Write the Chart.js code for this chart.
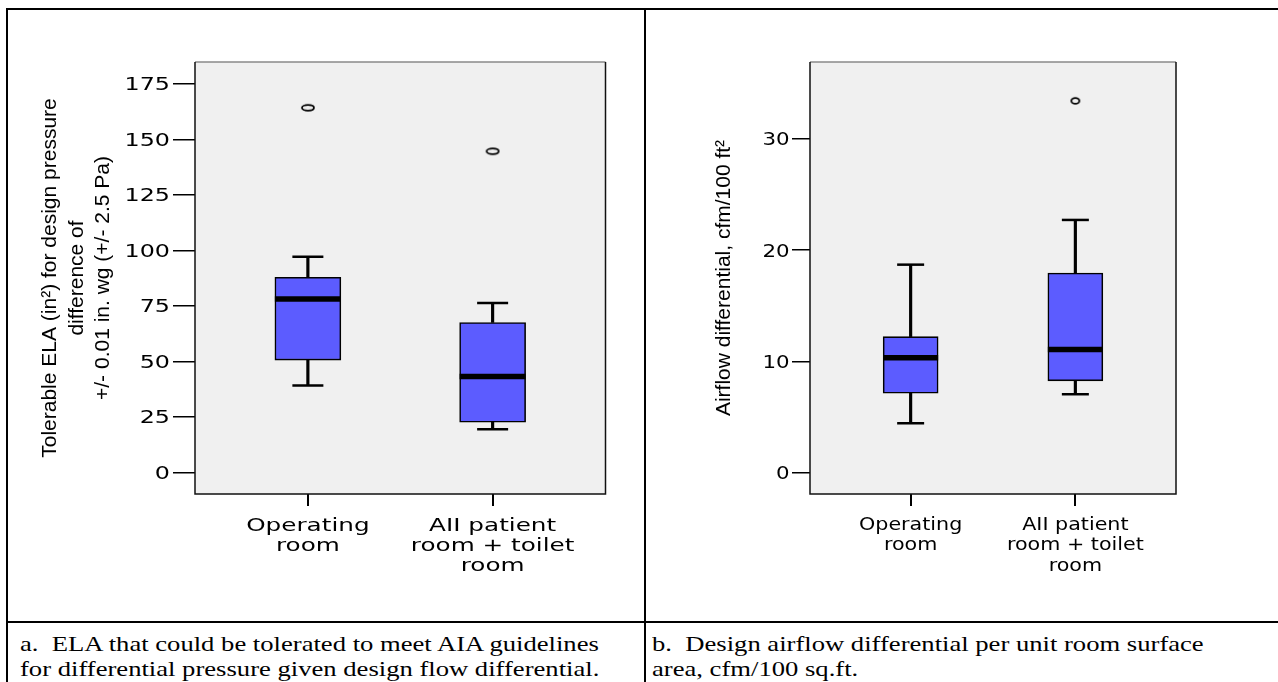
<!DOCTYPE html>
<html><head><meta charset="utf-8">
<script src="https://cdn.jsdelivr.net/npm/chart.js@4.4.1/dist/chart.umd.min.js"></script>
<style>
html,body{margin:0;padding:0;background:#fff;}
body{width:1278px;height:682px;position:relative;overflow:hidden;}
.ln{position:absolute;background:#000;z-index:2;}
canvas{position:absolute;top:0;}
.cap{position:absolute;font-family:"Liberation Serif","Times New Roman",serif;font-size:22px;line-height:24.5px;white-space:pre;transform-origin:0 0;transform:scaleX(1.21);color:#000;z-index:3;}
</style></head><body>
<canvas id="c1" width="644" height="621" style="left:0;width:644px;height:621px"></canvas>
<canvas id="c2" width="632" height="621" style="left:646px;width:632px;height:621px"></canvas>
<div class="ln" style="left:6px;top:8px;width:1272px;height:2px"></div>
<div class="ln" style="left:6px;top:8px;width:2px;height:674px"></div>
<div class="ln" style="left:644px;top:8px;width:2px;height:674px"></div>
<div class="ln" style="left:6px;top:621px;width:1272px;height:2px"></div>
<div class="cap" style="left:20px;top:632px">a.  ELA that could be tolerated to meet AIA guidelines
for differential pressure given design flow differential.</div>
<div class="cap" style="left:652px;top:632px">b.  Design airflow differential per unit room surface
area, cfm/100 sq.ft.</div>
<script>
// ---------- data ----------
const categories = ['Operating room', 'AII patient room + toilet room'];
const categoryLines = [['Operating', 'room'], ['AII patient', 'room + toilet', 'room']];

const elaMin = [39.2, 19.6];
const elaQ1 = [50.7, 22.7];
const elaMedian = [78.2, 43.3];
const elaQ3 = [88.0, 67.6];
const elaMax = [97.2, 76.4];
const elaOutliers = [[164.3], [144.7]];
const elaTicks = [0, 25, 50, 75, 100, 125, 150, 175];
const elaTitle = ['Tolerable ELA (in\u00B2) for design pressure', 'difference of', '+/- 0.01 in. wg (+/- 2.5 Pa)'];

const airMin = [4.44, 7.05];
const airQ1 = [7.14, 8.25];
const airMedian = [10.34, 11.07];
const airQ3 = [12.23, 17.95];
const airMax = [18.7, 22.72];
const airOutliers = [[], [33.43]];
const airTicks = [0, 10, 20, 30];
const airTitle = 'Airflow differential, cfm/100 ft\u00B2';

// ---------- helpers ----------
function ellipseMarker(w, h, rx, ry) {
  const c = document.createElement('canvas');
  c.width = w; c.height = h;
  const g = c.getContext('2d');
  g.strokeStyle = '#000'; g.lineWidth = 1.8;
  g.beginPath(); g.ellipse(w / 2, h / 2, rx, ry, 0, 0, Math.PI * 2); g.stroke();
  return c;
}

const framePlugin = {
  id: 'frame',
  beforeDraw(chart) {
    const {ctx, chartArea: a} = chart;
    ctx.save();
    ctx.fillStyle = '#f0f0f0';
    ctx.fillRect(a.left, a.top, a.right - a.left, a.bottom - a.top);
    ctx.restore();
  },
  afterDraw(chart, args, o) {
    const {ctx, chartArea: a} = chart;
    ctx.save();
    ctx.lineWidth = 1.5;
    ctx.strokeStyle = '#8a8a8a';
    ctx.beginPath(); ctx.moveTo(a.left, a.top); ctx.lineTo(a.right, a.top); ctx.stroke();
    ctx.strokeStyle = '#111';
    ctx.beginPath();
    ctx.moveTo(a.right, a.top); ctx.lineTo(a.right, a.bottom);
    ctx.lineTo(a.left, a.bottom); ctx.lineTo(a.left, a.top);
    ctx.stroke();
    const ys = chart.scales.y, xs = chart.scales.x;
    ctx.fillStyle = '#000';
    ctx.textBaseline = 'alphabetic';
    ctx.font = o.yFont;
    ctx.textAlign = 'right';
    ys.ticks.forEach(t => {
      const py = ys.getPixelForValue(t.value);
      ctx.save();
      ctx.translate(a.left - o.yGap, py + o.yShift);
      ctx.scale(o.ySx, 1);
      ctx.fillText(String(t.label), 0, 0);
      ctx.restore();
    });
    ctx.font = o.xFont;
    ctx.textAlign = 'center';
    xs.ticks.forEach(t => {
      const px = xs.getPixelForValue(t.value);
      const lines = Array.isArray(t.label) ? t.label : [t.label];
      lines.forEach((ln, k) => {
        ctx.save();
        ctx.translate(px, a.bottom + o.xBase + k * o.xStep);
        ctx.scale(o.xSx, 1);
        ctx.fillText(ln, 0, 0);
        ctx.restore();
      });
    });
    ctx.restore();
  }
};

function buildChart(id, s, cfg) {
  const pos = i => i + 1;
  const boxData = s.q1.map((q, i) => ({x: pos(i), y: [q, s.q3[i]]}));
  const upperW = s.q3.map((q, i) => ({x: pos(i), y: [q, s.max[i]]}));
  const lowerW = s.min.map((m, i) => ({x: pos(i), y: [m, s.q1[i]]}));
  const caps = s.max.map((v, i) => ({x: pos(i), y: v})).concat(s.min.map((v, i) => ({x: pos(i), y: v})));
  const medians = s.median.map((v, i) => ({x: pos(i), y: v}));
  const outl = [];
  s.outliers.forEach((arr, i) => arr.forEach(v => outl.push({x: pos(i), y: v})));

  return new Chart(document.getElementById(id), {
    type: 'bar',
    data: {
      datasets: [
        {type: 'scatter', data: medians, pointStyle: 'line', pointRadius: cfg.box / 2,
         pointBorderWidth: 5.5, pointBorderColor: '#000', pointBackgroundColor: '#000'},
        {type: 'scatter', data: caps, pointStyle: 'line', pointRadius: cfg.cap / 2,
         pointBorderWidth: 2.5, pointBorderColor: '#000', pointBackgroundColor: '#000'},
        {type: 'scatter', data: outl, pointStyle: cfg.marker, pointRadius: 5},
        {type: 'bar', data: boxData, backgroundColor: '#5c5cff', borderColor: '#000',
         borderWidth: 1.6, borderSkipped: false, barThickness: cfg.box, grouped: false},
        {type: 'bar', data: upperW, backgroundColor: '#000', borderWidth: 0,
         barThickness: 2.5, grouped: false},
        {type: 'bar', data: lowerW, backgroundColor: '#000', borderWidth: 0,
         barThickness: 2.5, grouped: false}
      ]
    },
    options: {
      responsive: false,
      animation: false,
      events: [],
      devicePixelRatio: 1,
      layout: {padding: {left: 0, top: 62, right: cfg.padRight, bottom: 0}},
      plugins: {
        legend: {display: false},
        tooltip: {enabled: false},
        frame: cfg.frame
      },
      scales: {
        x: {
          type: 'linear', min: 0.389, max: 2.611, offset: false,
          grid: {display: true, drawOnChartArea: false, drawTicks: true, tickLength: 12,
                 color: '#000', lineWidth: 2, offset: false},
          border: {display: false},
          ticks: {display: false, callback: v => categoryLines[v - 1]},
          afterBuildTicks: sc => { sc.ticks = categories.map((c, i) => ({value: pos(i)})); },
          afterFit: sc => { sc.height = 127; }
        },
        y: {
          type: 'linear', min: cfg.yMin, max: cfg.yMax,
          grid: {display: true, drawOnChartArea: false, drawTicks: true, tickLength: cfg.yTick,
                 color: '#000', lineWidth: 1.5},
          border: {display: false},
          ticks: {display: false, callback: v => String(v)},
          afterBuildTicks: sc => { sc.ticks = cfg.ticks.map(v => ({value: v})); },
          afterFit: sc => { sc.width = cfg.yWidth; },
          title: {display: true, text: cfg.title, color: '#000',
                  font: {family: '"Liberation Sans", Arial, sans-serif', size: 21, lineHeight: 1.27},
                  padding: {top: cfg.titlePad, bottom: 0}}
        }
      }
    },
    plugins: [framePlugin]
  });
}

buildChart('c1',
  {min: elaMin, q1: elaQ1, median: elaMedian, q3: elaQ3, max: elaMax, outliers: elaOutliers},
  {box: 66, cap: 31, marker: ellipseMarker(16, 10, 6, 2.8), padRight: 30, yMin: -9.6, yMax: 184.9,
   yTick: 22, yWidth: 195, ticks: elaTicks, title: elaTitle, titlePad: 37,
   frame: {yFont: '17px "DejaVu Sans"', yGap: 25, yShift: 6.2, ySx: 1.4,
           xFont: '17.5px "DejaVu Sans"', xBase: 37, xStep: 19.8, xSx: 1.41}});

buildChart('c2',
  {min: airMin, q1: airQ1, median: airMedian, q3: airQ3, max: airMax, outliers: airOutliers},
  {box: 55, cap: 27, marker: ellipseMarker(14, 10, 4, 2.9), padRight: 102, yMin: -1.92, yMax: 36.92,
   yTick: 18, yWidth: 164, ticks: airTicks, title: airTitle, titlePad: 65,
   frame: {yFont: '17.5px "DejaVu Sans"', yGap: 20.3, yShift: 6.4, ySx: 1.22,
           xFont: '17.5px "DejaVu Sans"', xBase: 36, xStep: 20.4, xSx: 1.18}});
</script>
</body></html>
